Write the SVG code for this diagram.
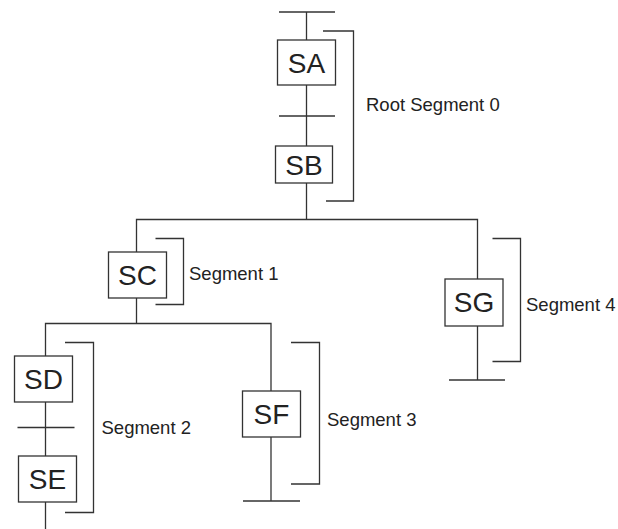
<svg xmlns="http://www.w3.org/2000/svg" width="618" height="529" viewBox="0 0 618 529">
  <style>
    .ln { stroke: #333; stroke-width: 1.3; fill: none; }
    .box { stroke: #333; stroke-width: 1.3; fill: #fff; }
    .lbl { font-family: "Liberation Sans", Arial, sans-serif; font-size: 28px; fill: #222; text-anchor: middle; }
    .seg { font-family: "Liberation Sans", Arial, sans-serif; font-size: 18.5px; fill: #222; }
  </style>
  <rect width="618" height="529" fill="#fff"/>

  <g id="connectors">
    <!-- root chain -->
    <line class="ln" x1="279" y1="12" x2="335" y2="12"/>
    <line class="ln" x1="306.5" y1="12" x2="306.5" y2="40"/>
    <line class="ln" x1="306.5" y1="85" x2="306.5" y2="146"/>
    <line class="ln" x1="279" y1="116" x2="335" y2="116"/>
    <line class="ln" x1="306.5" y1="183" x2="306.5" y2="219.5"/>
    <!-- first branch -->
    <polyline class="ln" points="136.5,252 136.5,219.5 477.5,219.5 477.5,279"/>
    <line class="ln" x1="477.5" y1="326" x2="477.5" y2="380"/>
    <line class="ln" x1="449" y1="380" x2="505" y2="380"/>
    <!-- second branch -->
    <line class="ln" x1="136.5" y1="298" x2="136.5" y2="323.5"/>
    <polyline class="ln" points="45.5,356 45.5,323.5 271,323.5 271,391"/>
    <line class="ln" x1="271" y1="437" x2="271" y2="501"/>
    <line class="ln" x1="243" y1="501" x2="300" y2="501"/>
    <!-- SD / SE chain -->
    <line class="ln" x1="45.5" y1="402" x2="45.5" y2="456"/>
    <line class="ln" x1="17.5" y1="427.5" x2="74.5" y2="427.5"/>
    <line class="ln" x1="45.5" y1="502" x2="45.5" y2="529"/>
  </g>

  <g id="brackets">
    <polyline class="ln" points="323,31 353.5,31 353.5,201 326,201"/>
    <polyline class="ln" points="155.5,238.5 183.5,238.5 183.5,304.5 155.5,304.5"/>
    <polyline class="ln" points="65,342.5 93.5,342.5 93.5,512.5 65,512.5"/>
    <polyline class="ln" points="291,342.5 319.5,342.5 319.5,484 291,484"/>
    <polyline class="ln" points="492.5,238.5 520.5,238.5 520.5,361.5 492.5,361.5"/>
  </g>

  <g id="node-SA">
    <rect class="box" x="277.5" y="40" width="58" height="45"/>
    <text class="lbl" x="306.5" y="72.5">SA</text>
  </g>
  <g id="node-SB">
    <rect class="box" x="275.5" y="146" width="57" height="37"/>
    <text class="lbl" x="304" y="174.5">SB</text>
  </g>
  <g id="node-SC">
    <rect class="box" x="108.5" y="252" width="58" height="46"/>
    <text class="lbl" x="137.5" y="284.5">SC</text>
  </g>
  <g id="node-SD">
    <rect class="box" x="14.5" y="356" width="58" height="46"/>
    <text class="lbl" x="43.5" y="388.5">SD</text>
  </g>
  <g id="node-SE">
    <rect class="box" x="18.5" y="456" width="58" height="46"/>
    <text class="lbl" x="47.5" y="488.5">SE</text>
  </g>
  <g id="node-SF">
    <rect class="box" x="242.5" y="391" width="58" height="46"/>
    <text class="lbl" x="271.5" y="423.5">SF</text>
  </g>
  <g id="node-SG">
    <rect class="box" x="445" y="279" width="58" height="47"/>
    <text class="lbl" x="474" y="311.5">SG</text>
  </g>

  <g id="segment-labels">
    <text class="seg" x="366" y="111">Root Segment 0</text>
    <text class="seg" x="189" y="280">Segment 1</text>
    <text class="seg" x="101.5" y="434">Segment 2</text>
    <text class="seg" x="327" y="426">Segment 3</text>
    <text class="seg" x="526" y="311">Segment 4</text>
  </g>
</svg>
